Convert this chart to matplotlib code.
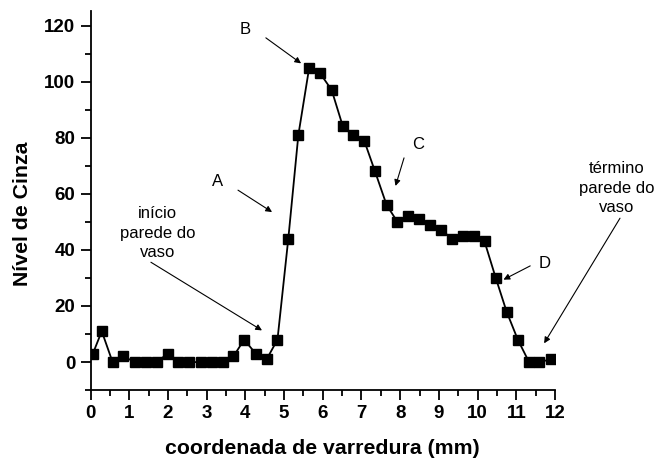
import matplotlib
matplotlib.use('Agg')
import matplotlib.pyplot as plt
from matplotlib.ticker import MultipleLocator

plt.rcParams['font.family'] = ['Liberation Sans', 'DejaVu Sans']

# scan coordinate (mm) and grey level
coord = [0.06, 0.29, 0.57, 0.85, 1.15, 1.43, 1.71, 1.99, 2.27, 2.55, 2.85,
         3.13, 3.41, 3.69, 3.97, 4.27, 4.55, 4.83, 5.11, 5.37, 5.65, 5.93,
         6.23, 6.52, 6.79, 7.07, 7.35, 7.65, 7.93, 8.21, 8.49, 8.77, 9.06,
         9.35, 9.62, 9.91, 10.18, 10.47, 10.75, 11.04, 11.33, 11.60, 11.89]
cinza = [3, 11, 0, 2, 0, 0, 0, 3, 0, 0, 0,
         0, 0, 2, 8, 3, 1, 8, 44, 81, 105, 103,
         97, 84, 81, 79, 68, 56, 50, 52, 51, 49, 47,
         44, 45, 45, 43, 30, 18, 8, 0, 0, 1]

fig = plt.figure(figsize=(6.56, 4.59), dpi=100)
ax = fig.add_axes([0.138, 0.150, 0.708, 0.825])

ax.plot(coord, cinza, color='black', lw=1.3, marker='s', ms=7,
        markerfacecolor='black', markeredgecolor='black')

ax.set_xlim(0, 12)
ax.set_ylim(-10, 125)
ax.xaxis.set_major_locator(MultipleLocator(1))
ax.xaxis.set_minor_locator(MultipleLocator(0.5))
ax.yaxis.set_major_locator(MultipleLocator(20))
ax.yaxis.set_minor_locator(MultipleLocator(10))
ax.spines['top'].set_visible(False)
ax.spines['right'].set_visible(False)
for s in ['left', 'bottom']:
    ax.spines[s].set_linewidth(1.3)
ax.tick_params(which='major', direction='out', length=7, width=1.3,
               labelsize=13.5, pad=4)
ax.tick_params(which='minor', direction='out', length=4, width=1.3)
for lab in ax.get_xticklabels() + ax.get_yticklabels():
    lab.set_fontweight('bold')

ax.set_xlabel('coordenada de varredura (mm)', fontsize=15.3, fontweight='bold')
ax.set_ylabel('Nível de Cinza', fontsize=15.3, fontweight='bold')
ax.xaxis.set_label_coords(0.5, -0.13)
ax.yaxis.set_label_coords(-0.125, 0.465)

arr = dict(arrowstyle='-|>', color='black', lw=0.8, mutation_scale=9,
           shrinkA=0, shrinkB=0)

# labels and arrows
ax.text(3.99, 118.5, 'B', fontsize=12, ha='center', va='center')
ax.annotate('', xy=(5.44, 106.5), xytext=(4.53, 115.6), arrowprops=arr)
ax.text(3.27, 64.5, 'A', fontsize=12, ha='center', va='center')
ax.annotate('', xy=(4.69, 53.5), xytext=(3.81, 61.3), arrowprops=arr)
ax.text(1.74, 46, 'início\nparede do\nvaso', fontsize=12, ha='center',
        va='center', linespacing=1.4)
ax.annotate('', xy=(4.43, 11.3), xytext=(1.56, 35.6), arrowprops=arr)
ax.text(8.47, 77.4, 'C', fontsize=12, ha='center', va='center')
ax.annotate('', xy=(7.88, 62.8), xytext=(8.10, 72.8), arrowprops=arr)
ax.text(11.74, 35.3, 'D', fontsize=12, ha='center', va='center')
ax.annotate('', xy=(10.67, 29.4), xytext=(11.36, 34.3), arrowprops=arr)
ax.text(13.6, 62, 'término\nparede do\nvaso', fontsize=12, ha='center',
        va='center', linespacing=1.4, clip_on=False)
ax.annotate('', xy=(11.72, 6.7), xytext=(13.68, 51.3), arrowprops=arr,
            annotation_clip=False)

fig.savefig('out.png', dpi=100)
